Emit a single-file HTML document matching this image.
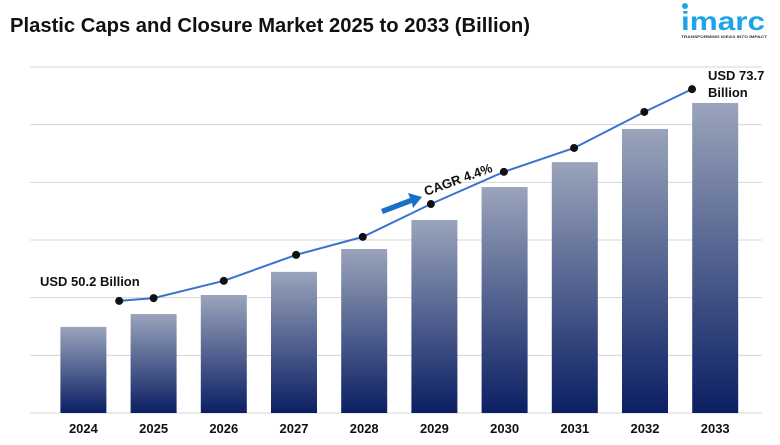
<!DOCTYPE html>
<html><head><meta charset="utf-8"><style>
body{margin:0;background:#fff;font-family:"Liberation Sans",Arial,sans-serif}
svg text{font-family:"Liberation Sans",Arial,sans-serif}
</style></head><body>
<svg id="c" width="780" height="440" viewBox="0 0 780 440">
<defs><linearGradient id="g" x1="0" y1="0" x2="0" y2="1"><stop offset="0" stop-color="#9aa4bb"/><stop offset="1" stop-color="#0b1f63"/></linearGradient></defs>
<text x="10" y="32" font-size="20" font-weight="bold" fill="#111" textLength="520" lengthAdjust="spacingAndGlyphs">Plastic Caps and Closure Market 2025 to 2033 (Billion)</text>
<g>
<circle cx="685" cy="6" r="3" fill="#1fa3e8"/>
<text x="681" y="30" font-size="26" font-weight="bold" fill="#1fa3e8" textLength="84" lengthAdjust="spacingAndGlyphs">imarc</text>
<text x="681" y="38" font-size="4" font-weight="bold" fill="#333" textLength="86" lengthAdjust="spacingAndGlyphs">TRANSFORMING IDEAS INTO IMPACT</text>
</g>
<g id="grid"></g><g id="bars"></g><g id="line"></g><g id="xl"></g>
<text x="40" y="286" font-size="13" font-weight="bold" fill="#111">USD 50.2 Billion</text>
<text x="708" y="80" font-size="13" font-weight="bold" fill="#111"><tspan x="708">USD 73.7</tspan><tspan x="708" dy="17">Billion</tspan></text>
<g>
<polygon points="381,209 410,198 408,193 422,197 413,208 412,203 383,214" fill="#1a6fc9"/>
<text x="426" y="196" font-size="13" font-weight="bold" fill="#111" transform="rotate(-20 426 196)">CAGR 4.4%</text>
</g>
</svg>
<script>
const years=["2024","2025","2026","2027","2028","2029","2030","2031","2032","2033"];
const barValues=[24.9,28.6,34.1,40.8,47.4,55.8,65.3,72.5,82.1,89.6];
const linePos=[0.51,1.0,2.0,3.03,3.98,4.95,5.99,6.99,7.99,8.67];
const lineValues=[32.4,33.2,38.2,45.7,50.9,60.4,69.7,76.6,87.0,93.6];
const gridTicks=[0,16.67,33.33,50,66.67,83.33,100];
const NS="http://www.w3.org/2000/svg";
const y=v=>413-v*3.46;
const x=i=>83.4+i*70.2;
function mk(t,a,p){const e=document.createElementNS(NS,t);for(const k in a)e.setAttribute(k,a[k]);document.getElementById(p).appendChild(e);return e;}
gridTicks.forEach(t=>{const l=mk("line",{x1:30,x2:762,y1:y(t),y2:y(t),stroke:"#d6d6d6","stroke-width":1},"grid");

});
years.forEach((yr,i)=>{const r=mk("rect",{x:x(i)-23,y:y(barValues[i]),width:46,height:413-y(barValues[i]),fill:"url(#g)"},"bars");


const t=mk("text",{x:x(i),y:433,"text-anchor":"middle","font-size":13,"font-weight":"bold",fill:"#111"},"xl");t.textContent=yr;

});
const pts=linePos.map((p,i)=>[x(p),y(lineValues[i])]);
const pl=mk("polyline",{points:pts.map(p=>p.join(",")).join(" "),fill:"none",stroke:"#3b73d1","stroke-width":2},"line");


pts.forEach(p=>{const c=mk("circle",{cx:p[0],cy:p[1],r:4,fill:"#111"},"line");

});
</script>
</body></html>
